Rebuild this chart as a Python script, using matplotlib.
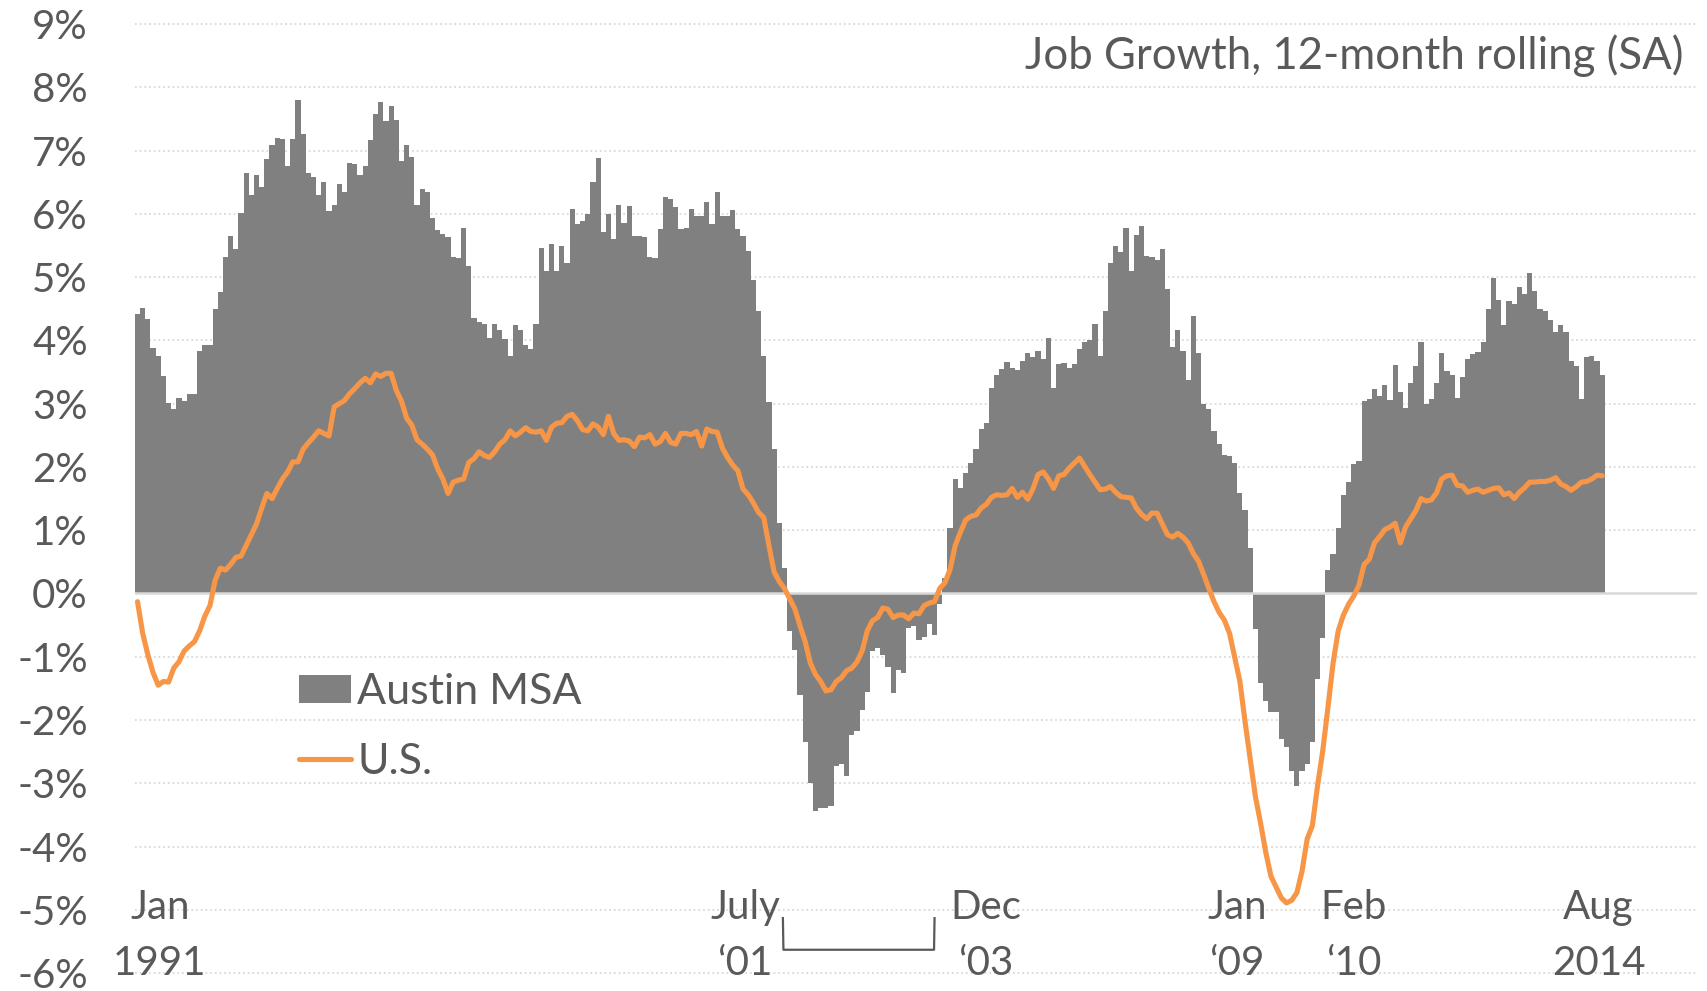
import numpy as np
import matplotlib
matplotlib.use("Agg")
import matplotlib.pyplot as plt
from matplotlib.patches import Patch
from matplotlib.lines import Line2D

# monthly job growth, Jan 1991 .. Aug 2014 (%)
AUSTIN=[4.41,4.51,4.33,3.88,3.76,3.43,3.01,2.91,3.09,3.04,
        3.15,3.16,3.83,3.92,3.93,4.50,4.77,5.32,5.65,5.45,
        6.02,6.65,6.30,6.62,6.43,6.86,7.09,7.20,7.19,6.75,
        7.19,7.80,7.26,6.65,6.58,6.30,6.51,6.05,6.14,6.47,
        6.35,6.80,6.79,6.61,6.76,7.16,7.57,7.76,7.47,7.70,
        7.49,6.84,7.09,6.90,6.14,6.39,6.35,5.93,5.74,5.68,
        5.64,5.32,5.30,5.77,5.18,4.36,4.29,4.26,4.03,4.26,
        4.16,4.02,3.76,4.24,4.17,3.93,3.86,4.26,5.46,5.10,
        5.52,5.09,5.49,5.22,6.08,5.84,5.88,5.99,6.51,6.89,
        5.71,5.99,5.60,6.14,5.86,6.12,5.65,5.65,5.64,5.32,
        5.30,5.76,6.26,6.23,6.10,5.76,5.78,6.08,5.97,5.97,
        6.18,5.84,6.35,5.97,5.96,6.06,5.76,5.65,5.42,4.95,
        4.46,3.75,3.03,2.28,1.12,0.41,-0.59,-0.89,-1.60,-2.34,
        -3.00,-3.44,-3.39,-3.39,-3.36,-2.72,-2.70,-2.89,-2.24,-2.18,
        -1.84,-1.56,-0.91,-0.86,-0.97,-1.16,-1.58,-1.21,-1.25,-0.55,
        -0.52,-0.74,-0.68,-0.48,-0.65,-0.17,0.25,1.03,1.81,1.66,
        1.90,2.06,2.28,2.60,2.70,3.24,3.46,3.54,3.66,3.56,
        3.53,3.67,3.80,3.73,3.84,3.71,4.03,3.25,3.63,3.65,
        3.56,3.63,3.86,3.98,4.00,4.26,3.76,4.47,5.23,5.49,
        5.40,5.78,5.09,5.67,5.81,5.34,5.32,5.27,5.44,4.81,
        3.90,4.17,3.84,3.38,4.39,3.80,3.00,2.91,2.57,2.36,
        2.19,2.18,2.07,1.59,1.32,0.72,-0.56,-1.42,-1.70,-1.87,
        -1.88,-2.30,-2.43,-2.81,-3.04,-2.81,-2.70,-2.35,-1.35,-0.70,
        0.37,0.62,1.03,1.56,1.76,2.04,2.09,3.04,3.07,3.23,
        3.12,3.29,3.05,3.61,3.19,2.93,3.33,3.59,3.98,3.00,
        3.08,3.32,3.80,3.51,3.46,3.09,3.42,3.71,3.78,3.82,
        3.97,4.50,4.98,4.64,4.24,4.62,4.57,4.84,4.74,5.06,
        4.78,4.50,4.46,4.32,4.14,4.25,4.14,3.67,3.59,3.08,
        3.74,3.76,3.67,3.46]
US=[-0.13,-0.63,-0.97,-1.25,-1.45,-1.39,-1.40,-1.18,-1.08,-0.91,
    -0.83,-0.76,-0.59,-0.36,-0.19,0.21,0.40,0.37,0.46,0.57,
    0.59,0.76,0.93,1.10,1.35,1.58,1.50,1.66,1.81,1.92,
    2.08,2.08,2.28,2.38,2.47,2.57,2.53,2.49,2.95,3.00,
    3.05,3.16,3.24,3.33,3.40,3.33,3.47,3.43,3.48,3.48,
    3.21,3.04,2.77,2.66,2.43,2.36,2.28,2.19,1.97,1.81,
    1.58,1.76,1.79,1.81,2.07,2.13,2.24,2.18,2.15,2.24,
    2.36,2.43,2.57,2.49,2.55,2.62,2.56,2.55,2.57,2.42,
    2.63,2.69,2.70,2.80,2.83,2.73,2.59,2.57,2.68,2.63,
    2.51,2.80,2.53,2.42,2.43,2.41,2.32,2.47,2.46,2.51,
    2.36,2.40,2.53,2.39,2.36,2.53,2.53,2.51,2.56,2.33,
    2.60,2.56,2.55,2.30,2.15,2.03,1.94,1.65,1.56,1.43,
    1.28,1.20,0.76,0.34,0.19,0.08,-0.08,-0.24,-0.51,-0.76,
    -1.10,-1.28,-1.39,-1.54,-1.52,-1.39,-1.33,-1.22,-1.18,-1.08,
    -0.91,-0.59,-0.43,-0.38,-0.23,-0.25,-0.38,-0.34,-0.34,-0.40,
    -0.31,-0.32,-0.19,-0.15,-0.13,0.08,0.17,0.38,0.76,0.97,
    1.16,1.22,1.24,1.35,1.41,1.52,1.56,1.55,1.56,1.66,
    1.52,1.60,1.49,1.65,1.88,1.92,1.81,1.66,1.86,1.88,
    1.98,2.06,2.14,2.01,1.88,1.76,1.64,1.65,1.69,1.60,
    1.53,1.52,1.51,1.35,1.25,1.18,1.27,1.27,1.10,0.93,
    0.89,0.95,0.89,0.80,0.63,0.51,0.30,0.08,-0.13,-0.30,
    -0.42,-0.63,-1.01,-1.39,-2.03,-2.62,-3.21,-3.63,-4.09,-4.47,
    -4.64,-4.81,-4.89,-4.85,-4.73,-4.39,-3.88,-3.67,-3.04,-2.49,
    -1.81,-1.10,-0.59,-0.34,-0.17,-0.04,0.13,0.46,0.54,0.80,
    0.90,1.01,1.05,1.11,0.80,1.05,1.18,1.31,1.50,1.46,
    1.48,1.59,1.81,1.86,1.87,1.71,1.70,1.60,1.63,1.65,
    1.60,1.63,1.66,1.67,1.56,1.59,1.50,1.60,1.67,1.76,
    1.76,1.77,1.77,1.79,1.83,1.73,1.69,1.63,1.69,1.76,
    1.77,1.81,1.87,1.86]
YTICKS=list(range(-6,10))
LAB_MONTH=[0,126,155,216,229,283]            # month index each label refers to
LAB_TOP=["Jan","July","Dec","Jan","Feb","Aug"]
LAB_BOT=["1991","\u201801","\u201803","\u201809","\u201810","2014"]
LAB_SHIFT=[4.8,-8.1,9.4,-3.1,6.5,-0.2]       # nudge (months) so labels sit as in the original
BRACKET=(126,155)                            # Jul '01 .. Dec '03

GRAY="#808080"; ORANGE="#F79646"; TXT="#595959"; GRID="#D9D9D9"; FS=29

plt.rcParams["font.family"]=["Lato","DejaVu Sans"]
fig=plt.figure(figsize=(17.08,9.91),dpi=100)
ax=fig.add_axes([0.079,0.018,0.9145,0.9578])

x=np.arange(len(AUSTIN))
ax.bar(x,AUSTIN,width=1.0,align="edge",color=GRAY,lw=0,zorder=2)
ax.plot(x+0.5,US,color=ORANGE,lw=3.7,zorder=4,solid_joinstyle="round",solid_capstyle="round")
for v in YTICKS:
    if v==0: ax.axhline(0,color=GRID,lw=1.8,zorder=3)
    else: ax.axhline(v,color=GRID,lw=1.3,ls=(0,(1,1.6)),zorder=1,clip_on=False)

ax.set_xlim(0,301.8); ax.set_ylim(-6,9)
ax.set_yticks(YTICKS); ax.set_yticklabels([f"{v}%" for v in YTICKS])
ax.tick_params(axis="y",length=0,pad=34,labelsize=FS,labelcolor=TXT)
ax.set_xticks([])
for s in ax.spines.values(): s.set_visible(False)

for m,t,b,d in zip(LAB_MONTH,LAB_TOP,LAB_BOT,LAB_SHIFT):
    ax.text(m+d,-4.97,t,ha="center",va="center",fontsize=FS,color=TXT,clip_on=False)
    ax.text(m+d,-5.84,b,ha="center",va="center",fontsize=FS,color=TXT,clip_on=False)
b0,b1=BRACKET[0]-0.8,BRACKET[1]-0.5
ax.plot([b0,b0+0.1,b1-0.1,b1],[-5.13,-5.63,-5.63,-5.13],color=TXT,lw=1.6,clip_on=False,zorder=5)

ax.text(0.9917,0.967,"Job Growth, 12-month rolling (SA)",transform=ax.transAxes,
        ha="right",va="center",fontsize=31.5,color=TXT)

h=[Patch(color=GRAY,lw=0),Line2D([],[],color=ORANGE,lw=3.7,solid_capstyle="round")]
ax.legend(h,["Austin MSA","U.S."],loc="upper left",bbox_to_anchor=(0.105,0.316),frameon=False,
          fontsize=31,handlelength=1.22,handleheight=0.65,handletextpad=0.14,labelspacing=0.73,
          borderpad=0,borderaxespad=0,labelcolor=TXT)

fig.savefig("out.png",dpi=100)
